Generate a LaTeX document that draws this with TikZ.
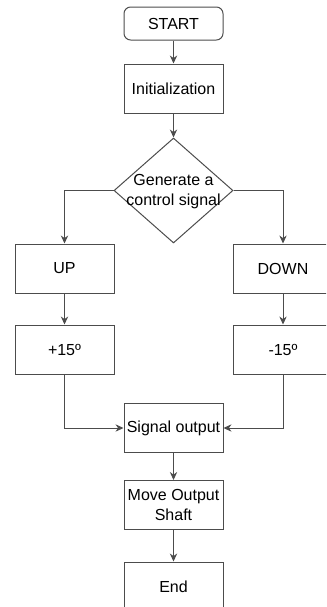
\documentclass[tikz,border=0pt]{standalone}
\usepackage{fontspec}
\setmainfont{Liberation Sans}
\usetikzlibrary{shapes.geometric,arrows.meta}

\begin{document}
\begin{tikzpicture}[x=0.75pt,y=-0.75pt,
  every node/.style={font=\fontsize{12}{14.5}\selectfont},
  line/.style={draw=black!70,line width=0.75pt},
  arr/.style={line,-{Stealth[length=6pt,width=5.5pt]}},
  terminal/.style={line,rounded corners=5pt,minimum width=74.25pt,minimum height=24.75pt,inner sep=1pt},
  process/.style={line,minimum width=74.25pt,minimum height=36.75pt,inner sep=1pt,align=center},
  decision/.style={line,diamond,minimum width=89.25pt,minimum height=78.75pt,inner sep=0pt}]
\useasboundingbox (0,0) rectangle (326,607);
\clip (0,0) rectangle (326,607);
% main column
\node[terminal] (start) at (173.5,23.5) {START};
\node[process] (init) at (173.5,88.5) {Initialization};
\node[decision] (gen) at (173.5,190.5) {};
\node[align=center,inner sep=0pt] (gentxt) at (173.5,191.5) {Generate a\\control signal};
% branches
\node[process] (up) at (64.5,268.5) {UP};
\node[process] (down) at (283,268.5) {DOWN};
\node[process] (plus) at (64.5,349.5) {+15º};
\node[process] (minus) at (283,349.5) {-15º};
% output
\node[process] (sig) at (173.5,428) {Signal output};
\node[process] (move) at (173.5,505) {Move Output\\Shaft};
\node[process] (end) at (173.5,586.5) {End};
% connectors
\draw[arr] (start) -- (init);
\draw[arr] (init) -- (gen);
\draw[arr] (gen.west) -| (up.north);
\draw[arr] (gen.east) -| (down.north);
\draw[arr] (up) -- (plus);
\draw[arr] (down) -- (minus);
\draw[arr] (plus.south) |- (sig.west);
\draw[arr] (minus.south) |- (sig.east);
\draw[arr] (sig) -- (move);
\draw[arr] (move) -- (end);
\end{tikzpicture}
\end{document}
